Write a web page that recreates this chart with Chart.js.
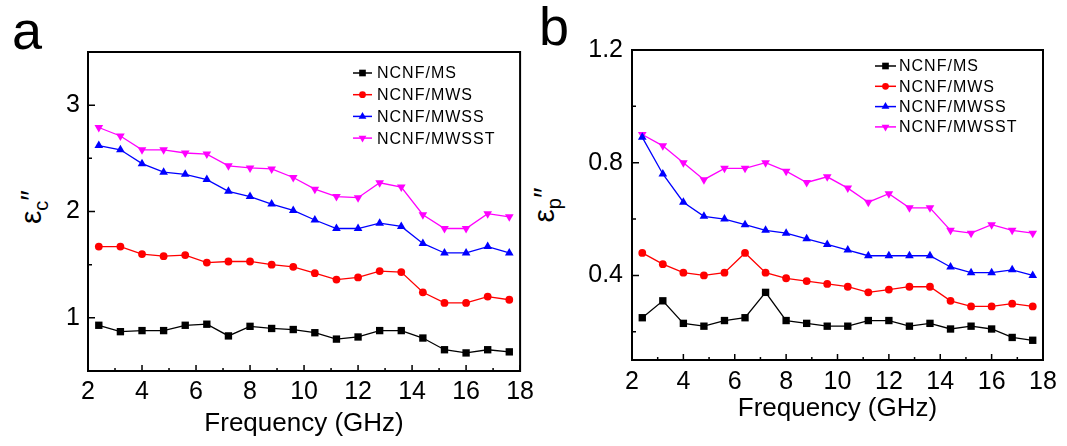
<!DOCTYPE html>
<html lang="en">
<head>
<meta charset="utf-8">
<title>Imaginary permittivity: conduction and polarization loss</title>
<script src="https://cdn.jsdelivr.net/npm/chart.js@4.4.1/dist/chart.umd.min.js"></script>
<style>
  html, body { margin: 0; padding: 0; background: #fff; }
  body { width: 1067px; height: 446px; position: relative; overflow: hidden; font-family: "Liberation Sans", Arial, sans-serif; color: #000; }
  .panel { position: absolute; top: 0; height: 446px; }
  #panelA { left: 0; width: 540px; }
  #panelB { left: 540px; width: 527px; }
  .letra { position: absolute; font-size: 54px; line-height: 1; }
  .tituloY { position: absolute; font-size: 30px; line-height: 1; white-space: nowrap; transform: translate(-50%, -50%) rotate(-90deg); }
  .tituloY sub { font-size: 20px; vertical-align: -7px; }
</style>
</head>
<body>
<div class="letra" style="left:12px; top:3px;">a</div>
<div class="letra" style="left:539px; top:-1px;">b</div>
<div class="tituloY" style="left:33px; top:207px;">ε<sub>c</sub>″</div>
<div class="tituloY" style="left:546px; top:205px;">ε<sub>p</sub>″</div>
<div class="panel" id="panelA"><canvas id="graficoA"></canvas></div>
<div class="panel" id="panelB"><canvas id="graficoB"></canvas></div>

<script>
// --- Datos ---
const frecuencias = [2.4, 3.2, 4.0, 4.8, 5.6, 6.4, 7.2, 8.0, 8.8, 9.6, 10.4, 11.2, 12.0, 12.8, 13.6, 14.4, 15.2, 16.0, 16.8, 17.6];
const nombresSeries = ['NCNF/MS', 'NCNF/MWS', 'NCNF/MWSS', 'NCNF/MWSST'];

// Panel a: pérdida por conducción
const epsC_MS    = [0.93, 0.87, 0.88, 0.88, 0.93, 0.94, 0.83, 0.92, 0.90, 0.89, 0.86, 0.80, 0.82, 0.88, 0.88, 0.81, 0.70, 0.67, 0.70, 0.68];
const epsC_MWS   = [1.67, 1.67, 1.60, 1.58, 1.59, 1.52, 1.53, 1.53, 1.50, 1.48, 1.42, 1.36, 1.38, 1.44, 1.43, 1.24, 1.14, 1.14, 1.20, 1.17];
const epsC_MWSS  = [2.62, 2.58, 2.45, 2.37, 2.35, 2.30, 2.19, 2.14, 2.07, 2.01, 1.92, 1.84, 1.84, 1.89, 1.86, 1.70, 1.61, 1.61, 1.67, 1.61];
const epsC_MWSST = [2.79, 2.71, 2.58, 2.58, 2.55, 2.54, 2.43, 2.41, 2.40, 2.32, 2.21, 2.14, 2.13, 2.27, 2.23, 1.97, 1.84, 1.84, 1.98, 1.95];

// Panel b: pérdida por polarización
const epsP_MS    = [0.25, 0.31, 0.23, 0.22, 0.24, 0.25, 0.34, 0.24, 0.23, 0.22, 0.22, 0.24, 0.24, 0.22, 0.23, 0.21, 0.22, 0.21, 0.18, 0.17];
const epsP_MWS   = [0.48, 0.44, 0.41, 0.40, 0.41, 0.48, 0.41, 0.39, 0.38, 0.37, 0.36, 0.34, 0.35, 0.36, 0.36, 0.31, 0.29, 0.29, 0.30, 0.29];
const epsP_MWSS  = [0.89, 0.76, 0.66, 0.61, 0.60, 0.58, 0.56, 0.55, 0.53, 0.51, 0.49, 0.47, 0.47, 0.47, 0.47, 0.43, 0.41, 0.41, 0.42, 0.40];
const epsP_MWSST = [0.90, 0.86, 0.80, 0.74, 0.78, 0.78, 0.80, 0.77, 0.73, 0.75, 0.71, 0.66, 0.69, 0.64, 0.64, 0.56, 0.55, 0.58, 0.56, 0.55];

// Marcas de los ejes
const ticksX = [2, 4, 6, 8, 10, 12, 14, 16, 18];
const ticksXMenores = [3, 5, 7, 9, 11, 13, 15, 17];
const ticksYA = [1, 2, 3];
const ticksYAMenores = [1.5, 2.5];
const ticksYB = [0.4, 0.8, 1.2];
const ticksYBMenores = [0.2, 0.6, 1.0];

// Estilo de cada serie
const colores = ['#000000', '#ff0000', '#0000ff', '#ff00ff'];
const marcadores = ['rect', 'circle', 'triangle', 'triangle'];
const rotaciones = [0, 0, 0, 180];
const radios = [5.2, 3.9, 5, 5];

Chart.defaults.font.family = '"Liberation Sans", Arial, sans-serif';
Chart.defaults.color = '#000';

// Marco completo y marcas hacia adentro (como en Origin)
const marcoEjes = {
    id: 'marcoEjes',
    afterDraw(chart, args, opts) {
        const { ctx, chartArea: area, scales: { x, y } } = chart;
        ctx.save();
        ctx.strokeStyle = '#000';
        ctx.lineWidth = 1.5;
        ctx.beginPath();
        ticksX.forEach(v => { const p = x.getPixelForValue(v); ctx.moveTo(p, area.bottom); ctx.lineTo(p, area.bottom - 6); });
        ticksXMenores.forEach(v => { const p = x.getPixelForValue(v); ctx.moveTo(p, area.bottom); ctx.lineTo(p, area.bottom - 3); });
        opts.mayores.forEach(v => { const p = y.getPixelForValue(v); ctx.moveTo(area.left, p); ctx.lineTo(area.left + 7, p); });
        opts.menores.forEach(v => { const p = y.getPixelForValue(v); ctx.moveTo(area.left, p); ctx.lineTo(area.left + 4, p); });
        ctx.stroke();
        ctx.lineWidth = 2;
        ctx.strokeRect(area.left, area.top, area.right - area.left, area.bottom - area.top);
        ctx.restore();
    }
};

// Leyenda dibujada dentro del área del gráfico
const leyendaInterna = {
    id: 'leyendaInterna',
    afterDatasetsDraw(chart, args, opts) {
        const { ctx } = chart;
        ctx.save();
        ctx.font = opts.fuente + 'px "Liberation Sans", Arial, sans-serif';
        ctx.letterSpacing = '1px';
        ctx.textBaseline = 'middle';
        chart.data.datasets.forEach((ds, i) => {
            const yy = opts.y + i * opts.paso;
            ctx.strokeStyle = ds.borderColor;
            ctx.lineWidth = 1.5;
            ctx.beginPath();
            ctx.moveTo(opts.x, yy);
            ctx.lineTo(opts.x + opts.ancho, yy);
            ctx.stroke();
            ctx.fillStyle = ds.pointBackgroundColor;
            Chart.helpers.drawPoint(ctx, {
                pointStyle: ds.pointStyle, radius: ds.pointRadius - 0.5,
                rotation: ds.pointRotation, borderWidth: 0
            }, opts.x + opts.ancho / 2, yy);
            ctx.fillStyle = '#000';
            ctx.fillText(nombresSeries[i], opts.x + opts.ancho + opts.sep, yy + 1);
        });
        ctx.restore();
    }
};

function armarSeries(listas) {
    return listas.map((valores, i) => ({
        label: nombresSeries[i],
        data: frecuencias.map((f, k) => ({ x: f, y: valores[k] })),
        borderColor: colores[i],
        backgroundColor: colores[i],
        pointBackgroundColor: colores[i],
        pointBorderColor: colores[i],
        pointBorderWidth: 0,
        pointStyle: marcadores[i],
        pointRotation: rotaciones[i],
        pointRadius: radios[i],
        borderWidth: 1.3,
        tension: 0
    }));
}

function crearPanel(idCanvas, listas, cfg) {
    const ctx = document.getElementById(idCanvas).getContext('2d');
    return new Chart(ctx, {
        type: 'line',
        data: { datasets: armarSeries(listas) },
        options: {
            responsive: true,
            maintainAspectRatio: false,
            animation: false,
            devicePixelRatio: 1,
            layout: { padding: cfg.relleno },
            plugins: {
                legend: { display: false },
                tooltip: { enabled: false },
                marcoEjes: { mayores: cfg.ticksY, menores: cfg.ticksYMenores },
                leyendaInterna: cfg.leyenda
            },
            scales: {
                x: {
                    type: 'linear',
                    min: 2,
                    max: 18,
                    afterBuildTicks: (eje) => { eje.ticks = ticksX.map(v => ({ value: v })); },
                    afterFit: (eje) => { eje.height = cfg.altoX; },
                    grid: { display: false, drawTicks: false },
                    border: { display: false },
                    ticks: { font: { size: 25 }, padding: cfg.padTickX, maxRotation: 0 },
                    title: {
                        display: true,
                        text: 'Frequency (GHz)',
                        font: { size: 26 },
                        padding: { top: 0, bottom: cfg.padTituloX }
                    }
                },
                y: {
                    type: 'linear',
                    min: cfg.minY,
                    max: cfg.maxY,
                    afterBuildTicks: (eje) => { eje.ticks = cfg.ticksY.map(v => ({ value: v })); },
                    afterFit: (eje) => { eje.width = cfg.anchoY; },
                    grid: { display: false, drawTicks: false },
                    border: { display: false },
                    ticks: { font: { size: 25 }, padding: cfg.padTickY, callback: (v) => String(v) }
                }
            }
        },
        plugins: [marcoEjes, leyendaInterna]
    });
}

crearPanel('graficoA', [epsC_MS, epsC_MWS, epsC_MWSS, epsC_MWSST], {
    relleno: { left: 0, right: 18, top: 52, bottom: 0 },
    anchoY: 88, altoX: 75,
    minY: 0.5, maxY: 3.5,
    ticksY: ticksYA, ticksYMenores: ticksYAMenores,
    padTickX: 6, padTickY: 8, padTituloX: 7,
    leyenda: { x: 353, y: 73, ancho: 19, paso: 21.7, sep: 5, fuente: 16 }
});

crearPanel('graficoB', [epsP_MS, epsP_MWS, epsP_MWSS, epsP_MWSST], {
    relleno: { left: 0, right: 24, top: 50, bottom: 0 },
    anchoY: 92, altoX: 86,
    minY: 0.1, maxY: 1.2,
    ticksY: ticksYB, ticksYMenores: ticksYBMenores,
    padTickX: 7, padTickY: 9, padTituloX: 22,
    leyenda: { x: 335, y: 66, ancho: 21, paso: 20.3, sep: 3, fuente: 16 }
});
</script>
</body>
</html>
